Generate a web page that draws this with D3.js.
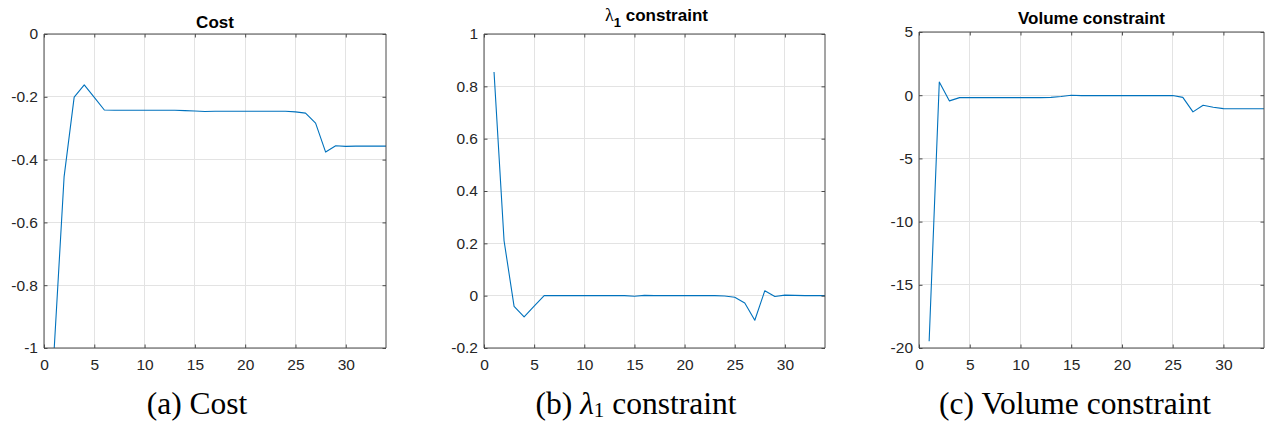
<!DOCTYPE html>
<html>
<head>
<meta charset="utf-8">
<script src="https://cdn.jsdelivr.net/npm/d3@7"></script>
<style>
  html, body { margin: 0; padding: 0; background: #fff; }
  svg { display: block; }
</style>
</head>
<body>
<svg id="chart" width="1265" height="423"></svg>
<script>
// ---------------- DATA ----------------
const iterations = [1,2,3,4,5,6,7,8,9,10,11,12,13,14,15,16,17,18,19,20,21,22,23,24,25,26,27,28,29,30,31,32,33,34];

const costValues = [-1.01,-0.454,-0.201,-0.162,-0.202,-0.242,-0.243,-0.243,-0.243,-0.243,
  -0.243,-0.243,-0.243,-0.244,-0.245,-0.247,-0.246,-0.246,-0.246,-0.246,
  -0.246,-0.246,-0.246,-0.246,-0.248,-0.252,-0.284,-0.376,-0.356,-0.358,
  -0.357,-0.357,-0.357,-0.357];

const lambdaValues = [0.855,0.21,-0.041,-0.081,-0.04,0.0,0.0,0.0,0.0,0.0,
  0.0,0.0,0.0,0.0,-0.002,0.001,0.0,0.0,0.0,0.0,
  0.0,0.0,0.0,-0.001,-0.006,-0.028,-0.094,0.019,-0.003,0.002,
  0.001,0.0,0.0,0.0];

const volumeValues = [-19.47,1.05,-0.45,-0.19,-0.19,-0.19,-0.19,-0.19,-0.19,-0.19,
  -0.19,-0.19,-0.17,-0.1,0.0,-0.03,-0.03,-0.03,-0.03,-0.03,
  -0.03,-0.03,-0.03,-0.03,-0.03,-0.17,-1.32,-0.8,-0.95,-1.06,
  -1.07,-1.07,-1.07,-1.07];

const xTicks = [0,5,10,15,20,25,30];
const costTicks = [-1,-0.8,-0.6,-0.4,-0.2,0];
const lambdaTicks = [-0.2,0,0.2,0.4,0.6,0.8,1];
const volumeTicks = [-20,-15,-10,-5,0,5];

const xDomain = [0, 34];
const costDomain = [-1, 0];
const lambdaDomain = [-0.2, 1];
const volumeDomain = [-20, 5];

// ---------------- LAYOUT ----------------
const panels = [
  { key: "a", values: costValues, ticks: costTicks, domain: costDomain,
    box: { l: 44, r: 386, t: 34, b: 348 }, title: "Cost", titleY: 28,
    caption: "(a) Cost", captionX: 197 },
  { key: "b", values: lambdaValues, ticks: lambdaTicks, domain: lambdaDomain,
    box: { l: 484, r: 825, t: 34, b: 348 }, title: null, titleY: 21,
    caption: null, captionX: 636 },
  { key: "c", values: volumeValues, ticks: volumeTicks, domain: volumeDomain,
    box: { l: 919, r: 1264, t: 32, b: 348 }, title: "Volume constraint", titleY: 24,
    caption: "(c) Volume constraint", captionX: 1075 }
];

const svg = d3.select("#chart");
const axisColor = "#4a4a4a";
const textColor = "#262626";
const gridColor = "#e3e3e3";
const lineColor = "#0072BD";
const tickFont = "'Liberation Sans', Arial, Helvetica, sans-serif";
const captionFont = "'Liberation Serif', 'Times New Roman', serif";
const tickLen = 3.5;
const fmt = v => (Math.round(v * 10) / 10).toString();

panels.forEach((p, i) => {
  const B = p.box;
  const x = d3.scaleLinear().domain(xDomain).range([B.l, B.r]);
  const y = d3.scaleLinear().domain(p.domain).range([B.b, B.t]);
  const g = svg.append("g");

  // grid
  g.append("g").selectAll("line").data(xTicks).join("line")
    .attr("x1", d => x(d)).attr("x2", d => x(d))
    .attr("y1", B.t).attr("y2", B.b)
    .attr("stroke", gridColor).attr("stroke-width", 1)
    .attr("shape-rendering", "crispEdges");
  g.append("g").selectAll("line").data(p.ticks).join("line")
    .attr("x1", B.l).attr("x2", B.r)
    .attr("y1", d => y(d)).attr("y2", d => y(d))
    .attr("stroke", gridColor).attr("stroke-width", 1)
    .attr("shape-rendering", "crispEdges");

  // clip
  const clipId = "clip-" + p.key;
  svg.append("clipPath").attr("id", clipId).append("rect")
    .attr("x", B.l).attr("y", B.t).attr("width", B.r - B.l).attr("height", B.b - B.t);

  // data line
  const pts = iterations.map((it, k) => [it, p.values[k]]);
  g.append("path")
    .datum(pts)
    .attr("clip-path", `url(#${clipId})`)
    .attr("fill", "none")
    .attr("stroke", lineColor)
    .attr("stroke-width", 1.1)
    .attr("stroke-linejoin", "round")
    .attr("d", d3.line().x(d => x(d[0])).y(d => y(d[1])));

  // axes (box) using d3 axes
  const axB = d3.axisBottom(x).tickValues(xTicks).tickSize(-tickLen).tickPadding(11).tickFormat(d3.format("d"));
  const axT = d3.axisTop(x).tickValues(xTicks).tickSize(-tickLen).tickFormat("");
  const axL = d3.axisLeft(y).tickValues(p.ticks).tickSize(-tickLen).tickPadding(6).tickFormat(fmt);
  const axR = d3.axisRight(y).tickValues(p.ticks).tickSize(-tickLen).tickFormat("");

  const styleAxis = sel => {
    sel.attr("font-size", null).attr("font-family", null);
    sel.select(".domain").attr("stroke", axisColor).attr("stroke-width", 1);
    sel.selectAll(".tick line").attr("stroke", axisColor).attr("stroke-width", 1);
    sel.selectAll(".tick text").attr("fill", textColor)
      .style("font-family", tickFont).style("font-size", "15.5px");
  };

  g.append("g").attr("transform", `translate(0,${B.b})`).call(axB).call(styleAxis)
    .call(s => s.select(".domain").attr("d", `M${B.l},0H${B.r}`));
  g.append("g").attr("transform", `translate(0,${B.t})`).call(axT).call(styleAxis)
    .call(s => s.select(".domain").attr("d", `M${B.l},0H${B.r}`));
  g.append("g").attr("transform", `translate(${B.l},0)`).call(axL).call(styleAxis)
    .call(s => s.select(".domain").attr("d", `M0,${B.t}V${B.b}`));
  g.append("g").attr("transform", `translate(${B.r},0)`).call(axR).call(styleAxis)
    .call(s => s.select(".domain").attr("d", `M0,${B.t}V${B.b}`));

  // title
  const cx = (B.l + B.r) / 2;
  if (p.title) {
    svg.append("text").attr("x", cx).attr("y", p.titleY)
      .attr("text-anchor", "middle")
      .style("font-family", tickFont).style("font-weight", "bold").style("font-size", "17px")
      .attr("fill", "#000").text(p.title);
  } else {
    const t = svg.append("text").attr("x", cx + 2).attr("y", p.titleY)
      .attr("text-anchor", "middle")
      .style("font-family", tickFont).style("font-size", "17px").attr("fill", "#000");
    t.append("tspan").style("font-family", captionFont).style("font-size", "18px").text("λ");
    t.append("tspan").attr("dy", 6).style("font-weight", "bold").style("font-size", "13px").text("1");
    t.append("tspan").attr("dy", -6).style("font-weight", "bold").text(" constraint");
  }

  // caption
  if (p.caption) {
    svg.append("text").attr("x", p.captionX).attr("y", 414)
      .attr("text-anchor", "middle")
      .style("font-family", captionFont).style("font-size", "31.5px")
      .attr("fill", "#000").text(p.caption);
  } else {
    const c = svg.append("text").attr("x", p.captionX).attr("y", 414)
      .attr("text-anchor", "middle")
      .style("font-family", captionFont).style("font-size", "31.5px").attr("fill", "#000");
    c.append("tspan").text("(b) ");
    c.append("tspan").style("font-style", "italic").text("λ");
    c.append("tspan").attr("dy", 3).style("font-size", "21px").text("1");
    c.append("tspan").attr("dy", -3).text(" constraint");
  }
});
</script>
</body>
</html>
